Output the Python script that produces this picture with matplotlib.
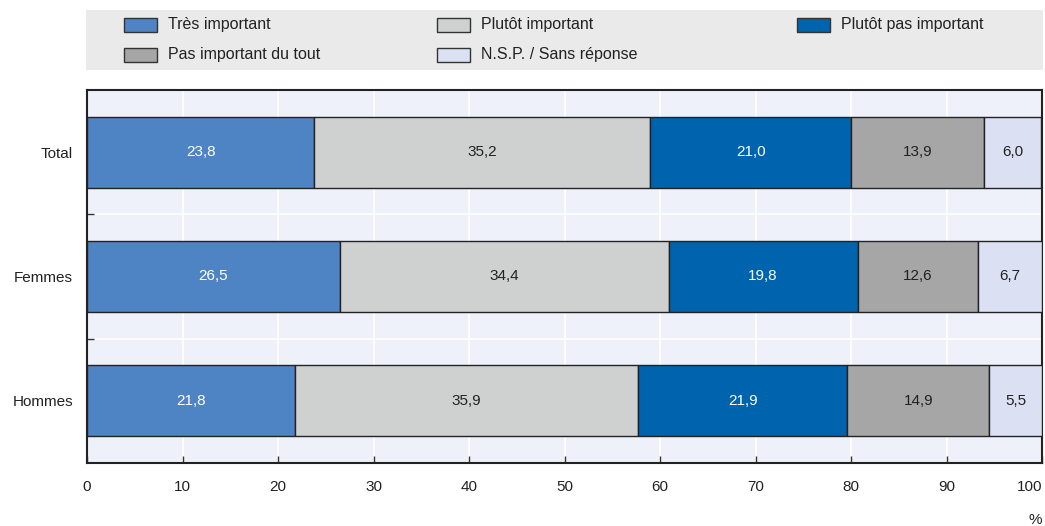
import matplotlib
matplotlib.use("Agg")
import matplotlib.pyplot as plt
from matplotlib.patches import Rectangle
import numpy as np

plt.rcParams['font.family'] = ['Liberation Sans', 'DejaVu Sans']

groups = ["Total", "Femmes", "Hommes"]
series = ["Très important", "Plutôt important", "Plutôt pas important",
          "Pas important du tout", "N.S.P. / Sans réponse"]
tres_important = [23.8, 26.5, 21.8]
plutot_important = [35.2, 34.4, 35.9]
plutot_pas_important = [21.0, 19.8, 21.9]
pas_important_du_tout = [13.9, 12.6, 14.9]
nsp = [6.0, 6.7, 5.5]
values = [tres_important, plutot_important, plutot_pas_important,
          pas_important_du_tout, nsp]
x_ticks = [0, 10, 20, 30, 40, 50, 60, 70, 80, 90, 100]

colors = ["#4F84C4", "#CFD1D0", "#0063AD", "#A6A6A6", "#DCE0F3"]
text_colors = ["white", "#222222", "white", "#222222", "#222222"]
FS = 11

fig = plt.figure(figsize=(10.45, 5.26), dpi=100)
ax = fig.add_axes([87/1045, 1-463/526, (1042-87)/1045, (463-90)/526])
ax.set_facecolor("#EEF1FA")

y = np.arange(len(groups))
left = np.zeros(len(groups))
for s, vals, c, tc in zip(series, values, colors, text_colors):
    vals = np.array(vals)
    ax.barh(y, vals, left=left, height=0.57, color=c, edgecolor="#222222",
            linewidth=1.0, zorder=3)
    for yi, l, v in zip(y, left, vals):
        ax.text(l + v/2, yi, f"{v:.1f}".replace(".", ","), ha="center", va="center",
                color=tc, fontsize=FS, zorder=4)
    left += vals

ax.set_xlim(0, 100)
ax.set_ylim(2.5, -0.5)
ax.set_yticks(y)
ax.set_yticklabels(groups, fontsize=FS, color="#222222")
ax.set_yticks([0.5, 1.5], minor=True)
ax.tick_params(axis="y", which="major", length=0, pad=10)
ax.tick_params(axis="y", which="minor", direction="in", length=5, width=1, color="#333333")
ax.set_xticks(x_ticks)
ax.set_xticklabels([str(t) for t in x_ticks], fontsize=FS, color="#222222")
ax.get_xticklabels()[-1].set_ha("right")
ax.tick_params(axis="x", direction="in", length=5, width=1, pad=12, color="#333333")
ax.grid(axis="x", color="white", linewidth=1.2, zorder=1)
ax.grid(axis="y", which="minor", color="white", linewidth=1.2, zorder=1)
ax.set_axisbelow(True)
for sp in ax.spines.values():
    sp.set_linewidth(1.5)
    sp.set_color("#222222")

fig.text(1035/1045, 1-520/526, "%", ha="center", va="center", fontsize=FS, color="#222222")

# Legend band
fig.add_artist(Rectangle((86/1045, 1-70/526), (1043-86)/1045, 60/526,
                         transform=fig.transFigure, facecolor="#EAEAEA",
                         edgecolor="none", zorder=0))
pos = [(124, 25), (437, 25), (797, 25), (124, 55), (437, 55)]
for (px, py), s, c in zip(pos, series, colors):
    fig.add_artist(Rectangle((px/1045, 1-(py+7)/526), 33/1045, 14/526,
                             transform=fig.transFigure, facecolor=c,
                             edgecolor="#333333", linewidth=1.0))
    fig.text((px+44)/1045, 1-py/526, s, ha="left", va="center", fontsize=11.5,
             color="#222222")

fig.savefig("out.png", dpi=100)
